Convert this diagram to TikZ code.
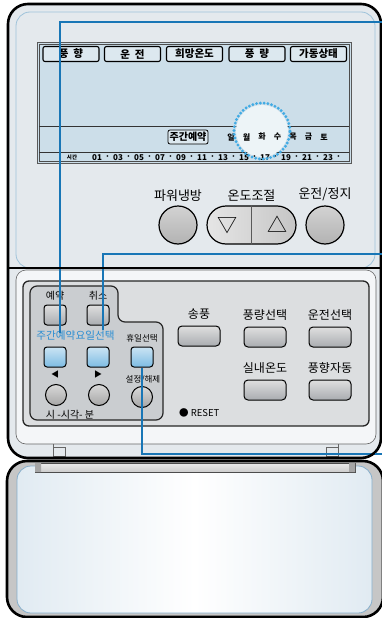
\documentclass[tikz,border=0pt]{standalone}
\usepackage{fontspec}
\setmainfont{Noto Sans CJK KR}
\usepackage{xcolor}
\usetikzlibrary{positioning, calc, shapes.misc}

\definecolor{bodygrey}{HTML}{E4E9ED}
\definecolor{bodyline}{HTML}{9FC3DA}
\definecolor{lcdblue}{HTML}{CCDEE9}
\definecolor{tagfill}{HTML}{DCE8EF}
\definecolor{panelgrey}{HTML}{DCDEE0}
\definecolor{subgrey}{HTML}{CACDD0}
\definecolor{keygrey}{HTML}{A9ACB0}
\definecolor{keyblue}{HTML}{7DBCE3}
\definecolor{leadblue}{HTML}{1876B6}
\definecolor{dotblue}{HTML}{42ABE4}
\definecolor{textblue}{HTML}{2A8ED3}
\definecolor{coverline}{HTML}{86AECB}

\begin{document}
\begin{tikzpicture}[
  x=1pt, y=-1pt,
  every node/.style={inner sep=0pt, font=\fontsize{12}{12}\selectfont},
  lcdtag/.style={rectangle, rounded corners=2pt, draw=black, line width=1.1pt,
                 fill=tagfill, minimum width=56pt, minimum height=15pt,
                 font=\fontsize{10.5}{10.5}\selectfont\bfseries},
  lcdtext/.style={font=\fontsize{8}{8}\selectfont\bfseries},
  keylabel/.style={font=\fontsize{12}{12}\selectfont},
  smalllabel/.style={font=\fontsize{8.5}{8.5}\selectfont},
  keysq/.style={rectangle, rounded corners=3pt, draw=black, line width=1pt,
                minimum width=22pt, minimum height=20pt,
                top color=gray!25, bottom color=keygrey},
  keyblu/.style={keysq, top color=keyblue!40, bottom color=keyblue},
  keywide/.style={keysq, rounded corners=4pt, minimum width=42pt, minimum height=20pt},
  keyround/.style={circle, draw=black, line width=1pt, minimum size=21pt,
                   top color=gray!30, bottom color=gray!70},
  biground/.style={circle, draw=black, line width=1.2pt, minimum size=38pt,
                   top color=gray!35, bottom color=gray!60},
  shell/.style={draw=black, line width=2.6pt, rounded corners=20pt},
  leader/.style={draw=leadblue, line width=1.5pt}
]
  \useasboundingbox (0,0) rectangle (382,618);

  % ── Upper body ────────────────────────────────────────────────
  \fill[bodygrey, rounded corners=20pt] (8,4) rectangle (381,458);
  \draw[bodyline, line width=0.8pt, rounded corners=14pt] (16,12) -- (375,12) -- (375,268) -- (16,268) -- cycle;
  \fill[white!60!bodygrey, rounded corners=10pt] (16,270) rectangle (376,444);
  \draw[gray!80!black, line width=0.6pt, rounded corners=10pt] (16,270) rectangle (376,444);

  % ── Hinge tabs ────────────────────────────────────────────────
  \draw[gray!80!black, line width=0.6pt] (53,444) -- (53,457) (338,444) -- (338,457);
  \draw[gray!80!black, line width=0.6pt] (53,447) rectangle (65,456);
  \draw[gray!80!black, line width=0.6pt] (326,447) rectangle (338,456);

  % ── LCD window ────────────────────────────────────────────────
  \draw[gray!70!black, line width=0.8pt, fill=lcdblue] (37,42) rectangle (351,163);
  \draw[gray!60!black, line width=0.5pt] (39,44) rectangle (349,161);
  \draw[gray!40!black, line width=0.6pt] (39,126) -- (349,126);
  \draw[gray!40!black, line width=0.6pt] (39,152) -- (349,152);
  \fill[white!65!lcdblue] (262,131) circle (26pt);

  \node[lcdtag] (tagdir)  at (71,54)    {풍\ \ 향};
  \node[lcdtag] (tagrun)  at (132.5,54) {운\ \ 전};
  \node[lcdtag] (tagset)  at (194.5,54) {희망온도};
  \node[lcdtag] (tagfan)  at (257,54)   {풍\ \ 량};
  \node[lcdtag] (tagstat) at (318.5,54) {가동상태};

  \node[lcdtag, minimum width=40pt, minimum height=14pt, line width=0.8pt,
        font=\fontsize{10}{10}\selectfont\bfseries] (tagweek) at (188,137) {주간예약};
  \foreach \d [count=\i] in {일,월,화,수,목,금,토}
    \node[lcdtext] (day\i) at ({231+(\i-1)*15.5},137) {\d};

  \node[font=\fontsize{5.5}{5.5}\selectfont\bfseries] (hourlbl) at (72,157.5) {시간};
  \foreach \h [count=\i] in {01,03,05,07,09,11,13,15,17,19,21,23} {
    \node[lcdtext] (hr\i) at ({97+(\i-1)*21},157.5) {\h};
    \node[lcdtext] at ({107.5+(\i-1)*21},157.5) {·};
  }

  % ── Highlight ring on the day row ─────────────────────────────
  \node[circle, draw=dotblue, line width=3.2pt, dash pattern=on 0pt off 3.8pt,
        line cap=round, minimum size=56pt] (dayring) at (262,131) {};

  % ── Main keys ─────────────────────────────────────────────────
  \node[biground] (powerkey) at (178,225) {};
  \node[rounded rectangle, draw=black, line width=1.2pt, minimum width=89pt,
        minimum height=38pt, left color=gray!20, right color=gray!45] (tempkey) at (251.5,225) {};
  \draw[gray!70!black, line width=0.8pt] (tempkey.north) -- (tempkey.south);
  \node[font=\fontsize{20}{20}\selectfont] (tempdown) at (227,226) {▽};
  \node[font=\fontsize{20}{20}\selectfont] (tempup)   at (277,224) {△};
  \node[biground] (runkey) at (325,225) {};

  \node[font=\fontsize{13}{13}\selectfont, above=4pt of powerkey] (powerlbl) {파워냉방};
  \node[font=\fontsize{13}{13}\selectfont, above=4pt of tempkey]  (templbl)  {온도조절};
  \node[font=\fontsize{13}{13}\selectfont, above=4pt of runkey]   (runlbl)   {운전/정지};

  % ── Key panel ─────────────────────────────────────────────────
  \draw[gray!30!black, line width=1.3pt, fill=panelgrey, rounded corners=6pt] (23,281) rectangle (369,426);
  \draw[gray!30!black, line width=1.2pt, fill=subgrey, rounded corners=7pt]
        (30,286) -- (118,286) -- (118,322) -- (163,322) -- (163,420) -- (30,420) -- cycle;

  % ── Reservation keys ──────────────────────────────────────────
  \node[keysq] (resvkey)   at (55,315) {};
  \node[keysq] (cancelkey) at (98,315) {};
  \node[keylabel, font=\fontsize{10}{10}\selectfont, above=4pt of resvkey]   (resvlbl)   {예약};
  \node[keylabel, font=\fontsize{10}{10}\selectfont, above=4pt of cancelkey] (cancellbl) {취소};

  \node[keyblu] (weekkey) at (55,357) {};
  \node[keyblu] (daykey)  at (98,357) {};
  \node[keyblu] (holkey)  at (142,357) {};
  \node[font=\fontsize{10.6}{10.6}\selectfont, text=textblue] (weeklbl) at (75.5,336) {주간예약요일선택};
  \node[smalllabel] (hollbl) at (142,338) {휴일선택};

  \node[keyround] (prevkey) at (56,395) {};
  \node[keyround] (nextkey) at (99,395) {};
  \node[keyround] (setkey)  at (142,397) {};
  \node[font=\fontsize{8}{8}\selectfont] (prevlbl) at (55,374) {◀};
  \node[font=\fontsize{8}{8}\selectfont] (nextlbl) at (98,374) {▶};
  \node[smalllabel] (setlbl)  at (143,380) {설정/해제};
  \node[font=\fontsize{10}{10}\selectfont] (timelbl) at (70,415) {시 -시각- 분};

  % ── Mode keys ─────────────────────────────────────────────────
  \node[keywide] (blowkey)  at (199,336) {};
  \node[keywide] (volkey)   at (265,337) {};
  \node[keywide] (modekey)  at (330,337) {};
  \node[keywide] (roomkey)  at (265,390) {};
  \node[keywide] (swingkey) at (330,390) {};
  \node[keylabel, above=6pt of blowkey]  (blowlbl)  {송풍};
  \node[keylabel, above=6pt of volkey]   (vollbl)   {풍량선택};
  \node[keylabel, above=6pt of modekey]  (modelbl)  {운전선택};
  \node[keylabel, above=6pt of roomkey]  (roomlbl)  {실내온도};
  \node[keylabel, above=6pt of swingkey] (swinglbl) {풍향자동};
  \node[font=\fontsize{9.5}{9.5}\selectfont, anchor=west] (resetlbl) at (179,413) {● RESET};

  % ── Lower cover ───────────────────────────────────────────────
  \fill[gray!45, rounded corners=20pt] (7,461) rectangle (383,617);
  \shade[left color=coverline!25, right color=coverline!25, middle color=white, rounded corners=14pt]
        (17,466) rectangle (372,613);
  \draw[coverline, line width=0.8pt, rounded corners=14pt] (17,466) rectangle (372,613);
  \draw[gray!60!black, line width=0.6pt, top color=gray!15, bottom color=gray!40] (35,463) rectangle (355,472);
  \fill[gray!70] (35,463) rectangle (41,472) (349,463) rectangle (355,472);

  % ── Leader lines ──────────────────────────────────────────────
  \coordinate (exit1) at (382,22);
  \coordinate (exit2) at (382,254);
  \coordinate (exit3) at (382,454);
  \coordinate (tip1)  at (60,333);
  \coordinate (tip2)  at (103,330);
  \draw[leader] (exit1) -| (tip1);
  \draw[leader] (exit2) -| (tip2);
  \draw[leader] (holkey.south) |- (exit3);

  % ── Shells ────────────────────────────────────────────────────
  \draw[line width=2pt] (8,268) -- (381,268);
  \draw[shell] (8,4) rectangle (381,458);
  \draw[shell] (7,461) rectangle (383,617);
  \draw[leader] (375,22) -- (exit1) (375,254) -- (exit2) (375,454) -- (exit3);

\end{tikzpicture}
\end{document}
